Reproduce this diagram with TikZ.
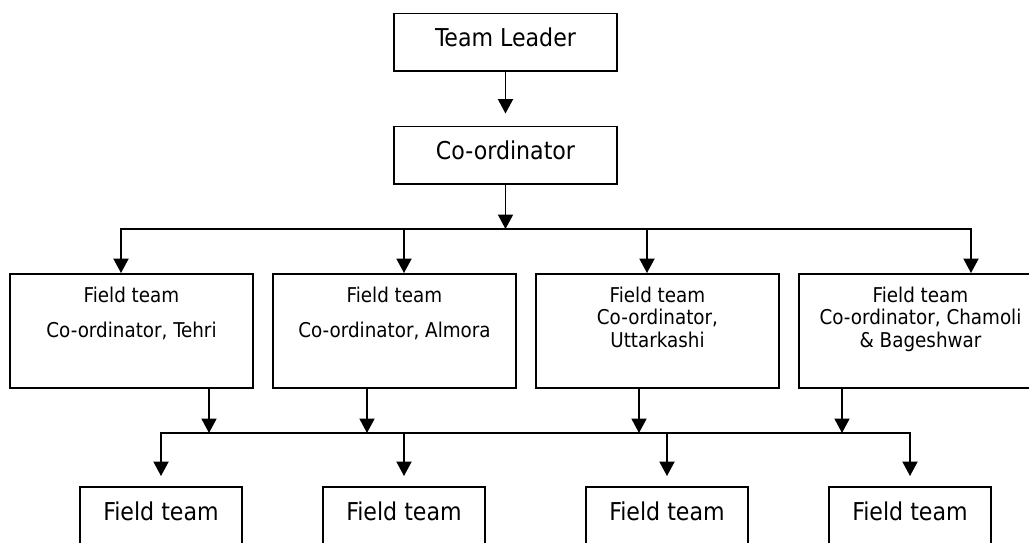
\documentclass[tikz,border=0pt]{standalone}
\usepackage{fontspec}
\setmainfont{DejaVu Sans Condensed}
\usetikzlibrary{positioning,arrows.meta}

\begin{document}
\begin{tikzpicture}[x=0.02cm,y=-0.02cm,
  topbox/.style={draw,line width=1.1pt,inner sep=0pt,minimum width=4.46cm,text height=0.65cm,text depth=0.5cm,anchor=base,font=\fontsize{14}{16}\selectfont},
  fieldbox/.style={draw,line width=1.1pt,minimum width=4.86cm,minimum height=2.28cm},
  fieldtext/.style={inner sep=0pt,align=center,font=\fontsize{11.6}{12.8}\selectfont},
  teambox/.style={draw,line width=1.1pt,inner sep=0pt,minimum width=3.24cm,text height=0.66cm,text depth=1cm,anchor=base,font=\fontsize{14}{16}\selectfont},
  line/.style={line width=1.1pt},
  arr/.style={line width=1.1pt,-{Triangle[length=0.29cm,width=0.3cm]}}]
\useasboundingbox (0,0) rectangle (1029,542);
\clip (0,0) rectangle (1029,542);

\node[topbox] at (505.5,46)  (lead)  {Team Leader};
\node[topbox] at (505.5,159) (coord) {Co-ordinator};

\node[fieldbox] at (131.5,331) (f1) {};
\node[fieldbox] at (394.5,331) (f2) {};
\node[fieldbox] at (657.5,331) (f3) {};
\node[fieldbox] at (920.5,331) (f4) {};

\node[fieldtext, below=0.27cm of f1.north] (t1) {Field team\\[7pt]Co-ordinator, Tehri};
\node[fieldtext, below=0.27cm of f2.north] (t2) {Field team\\[7pt]Co-ordinator, Almora};
\node[fieldtext, below=0.27cm of f3.north] (t3) {Field team\\Co-ordinator,\\Uttarkashi};
\node[fieldtext, below=0.27cm of f4.north] (t4) {Field team\\Co-ordinator, Chamoli\\\& Bageshwar};

\node[teambox] at (161,520) (ft1) {Field team};
\node[teambox] at (404,520) (ft2) {Field team};
\node[teambox] at (667,520) (ft3) {Field team};
\node[teambox] at (910,520) (ft4) {Field team};

% upper bus
\coordinate (top) at (505.5,229);
\coordinate (h1) at (121,229);
\coordinate (h2) at (404,229);
\coordinate (h3) at (647,229);
\coordinate (h4) at (971,229);

\draw[arr, shorten >=0.24cm] (lead) -- (coord);
\draw[arr] (coord) -- (top);
\draw[line] (h2) -- (h3);
\draw[arr] (h2) -- (h1) -- (h1 |- f1.north);
\draw[arr] (h3) -- (h4) -- (h4 |- f4.north);
\draw[arr] (h2) -- (h2 |- f2.north);
\draw[arr] (h3) -- (h3 |- f3.north);

% lower bus
\coordinate (u1) at (209,433);
\coordinate (u2) at (367,433);
\coordinate (u3) at (639,433);
\coordinate (u4) at (842,433);
\coordinate (b1) at (161,433);
\coordinate (b2) at (404,433);
\coordinate (b3) at (667,433);
\coordinate (b4) at (910,433);

\draw[arr] (u1 |- f1.south) -- (u1);
\draw[arr] (u2 |- f2.south) -- (u2);
\draw[arr] (u3 |- f3.south) -- (u3);
\draw[arr] (u4 |- f4.south) -- (u4);
\draw[line] (b2) -- (b3);
\draw[arr, shorten >=0.2cm] (b2) -- (b1) -- (b1 |- ft1.north);
\draw[arr, shorten >=0.2cm] (b3) -- (b4) -- (b4 |- ft4.north);
\draw[arr, shorten >=0.2cm] (b2) -- (b2 |- ft2.north);
\draw[arr, shorten >=0.2cm] (b3) -- (b3 |- ft3.north);
\end{tikzpicture}
\end{document}
